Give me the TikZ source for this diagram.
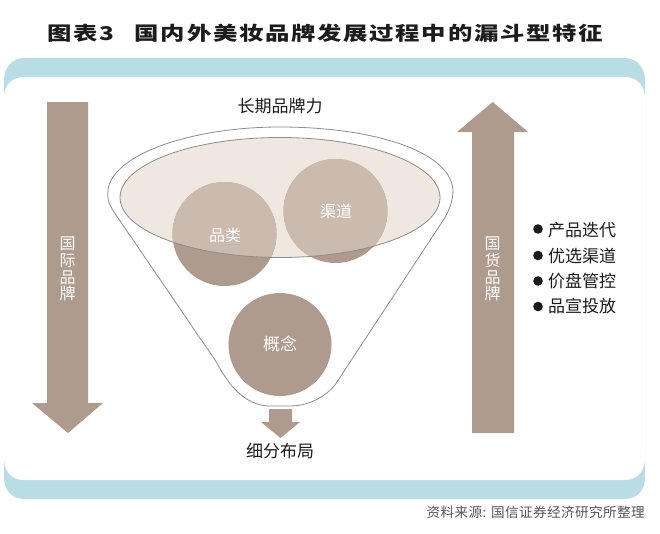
\documentclass[tikz,border=0pt]{standalone}
\usepackage{fontspec}
\setmainfont{Noto Sans CJK SC}
\newcommand{\fsz}[1]{\fontsize{#1}{#1}\selectfont}
\definecolor{band}{HTML}{B8DDE4}
\definecolor{taupe}{HTML}{AF9A8E}
\definecolor{pale}{HTML}{EFE8E0}
\definecolor{mid}{HTML}{CBBAAE}
\definecolor{rim}{HTML}{8F8C89}
\definecolor{ink}{HTML}{1C1C1C}
\tikzset{
  blockarrow/.style={fill=taupe,draw=none},
  disc/.style={fill=taupe,draw=none},
  rimline/.style={draw=rim,line width=0.8pt},
  lbl/.style={text=ink,font=\fsz{17},inner sep=0pt},
  onarrow/.style={text=white,font=\fsz{16},inner sep=0pt,align=center},
  oncircle/.style={text=white,font=\fsz{16},inner sep=0pt},
  dotmark/.style={circle,fill=ink,draw=none,minimum size=9.6pt,inner sep=0pt},
}
\begin{document}
\begin{tikzpicture}[x=1pt,y=-1pt]
\useasboundingbox (0,0) rectangle (660,533);
% band
\fill[band] (24,58) -- (625,58) .. controls (637,58) and (645,68) .. (645,80) -- (645,478) .. controls (645,490) and (637,499) .. (625,499) -- (24,499) .. controls (12,499) and (4,490) .. (4,478) -- (4,80) .. controls (4,68) and (12,58) .. (24,58) -- cycle;
\fill[white] (24,77) -- (625,77) .. controls (636,77) and (645,85) .. (645,98) -- (645,458) .. controls (645,472) and (636,480) .. (625,480) -- (24,480) .. controls (12,480) and (4,472) .. (4,458) -- (4,98) .. controls (4,85) and (12,77) .. (24,77) -- cycle;
% side arrows
\fill[blockarrow] (47,102) -- (88,102) -- (88,403) -- (103,403) -- (68,433) -- (32,403) -- (47,403) -- cycle;
\fill[blockarrow] (472,433) -- (514,433) -- (514,132) -- (528,132) -- (492.7,102) -- (457,132) -- (472,132) -- cycle;
% funnel
\path[rimline,fill=white] (114,212) .. controls (108,203) and (107,197) .. (108,190) .. controls (112,155) and (190,127) .. (280,127) .. controls (370,127) and (450,150) .. (453,190) .. controls (453,200) and (450,208) .. (445,217.5) -- (335,385) .. controls (322,400) and (305,406) .. (290,406) -- (270,406) .. controls (250,406) and (232,392) .. (217,363) -- cycle;
% ellipse and circles
\fill[pale] (280,197.5) ellipse [x radius=160,y radius=60];
\fill[disc] (224.5,234) circle [radius=52];
\fill[disc] (335.5,211) circle [radius=52];
\fill[disc] (280,344.5) circle [radius=51.5];
\begin{scope}
  \clip (280,197.5) ellipse [x radius=160,y radius=60];
  \fill[mid] (224.5,234) circle [radius=52];
  \fill[mid] (335.5,211) circle [radius=52];
\end{scope}
\draw[rimline] (280,197.5) ellipse [x radius=160,y radius=60];
% small arrow
\fill[blockarrow] (269,409) -- (292,409) -- (292,422) -- (300,422) -- (280.5,438) -- (261,422) -- (269,422) -- cycle;
% texts
\node[inner sep=0pt,text=ink,xscale=1.284,font=\bfseries\fsz{19}] (title) at (325,33.5) {\addfontfeature{LetterSpace=7}图表3\hspace{0.85em}国内外美妆品牌发展过程中的漏斗型特征};
\node[lbl] (top) at (280,106) {长期品牌力};
\node[lbl] (bottom) at (280,451) {细分布局};
\node[onarrow,text width=20pt] (intl) at (67.5,269) {\baselineskip=16.75pt 国\\际\\品\\牌};
\node[onarrow,text width=20pt] (dom) at (492.7,269) {\baselineskip=16.75pt 国\\货\\品\\牌};
\node[oncircle] (cat) at (225,235.5) {品类};
\node[oncircle] (chan) at (336,211) {渠道};
\node[oncircle,font=\fsz{17}] (idea) at (280,344) {概念};
\node[dotmark] (d1) at (538,229) {};
\node[dotmark] (d2) at (538,255.5) {};
\node[dotmark] (d3) at (538,281) {};
\node[dotmark] (d4) at (538,306.5) {};
\node[lbl,anchor=west] (b1) at (548,230) {产品迭代};
\node[lbl,anchor=west] (b2) at (548,256) {优选渠道};
\node[lbl,anchor=west] (b3) at (548,281) {价盘管控};
\node[lbl,anchor=west] (b4) at (548,306) {品宣投放};
\node[inner sep=0pt,text=ink!75,font=\fsz{13.6},anchor=east] (src) at (645,512) {\addfontfeature{LetterSpace=3}资料来源: 国信证券经济研究所整理};
\end{tikzpicture}
\end{document}
